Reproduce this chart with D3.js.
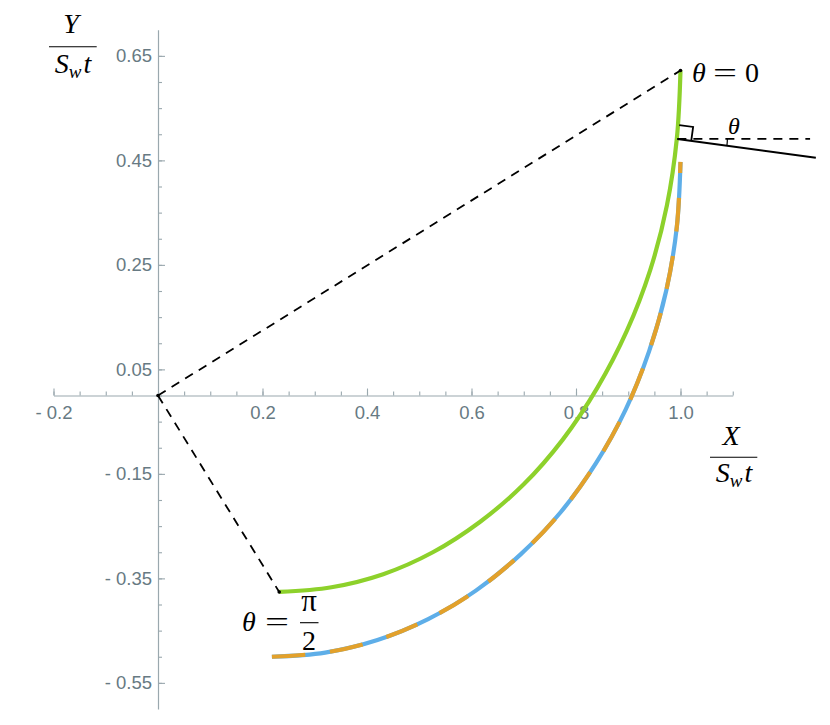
<!DOCTYPE html>
<html>
<head>
<meta charset="utf-8">
<script src="https://cdn.jsdelivr.net/npm/d3@7"></script>
<style>
  body { margin: 0; background: #fff; }
  svg { display: block; }
  .tick text { font-family: "Liberation Sans", Arial, sans-serif; font-size: 18.5px; fill: #677a83; }
  .math { font-family: "Liberation Serif", "DejaVu Serif", serif; fill: #000; }
</style>
</head>
<body>
<div id="chart"></div>
<script>
////////////////////////////////// data (X/(S_w t), Y/(S_w t))

// green curve, from theta = 0 (top) to theta = pi/2 (bottom)
var greenX = [1.000, 0.993, 0.974, 0.942, 0.897, 0.841, 0.775, 0.700, 0.616, 0.526, 0.431, 0.332, 0.232];
var greenY = [0.622, 0.492, 0.364, 0.240, 0.123, 0.015, -0.084, -0.170, -0.242, -0.300, -0.342, -0.367, -0.376];

// blue curve (drawn solid) and the same curve in orange dashes on top
var blueX = [1.000, 0.993, 0.973, 0.940, 0.895, 0.838, 0.771, 0.694, 0.609, 0.517, 0.420, 0.320, 0.218];
var blueY = [0.447, 0.323, 0.202, 0.085, -0.027, -0.130, -0.223, -0.304, -0.373, -0.428, -0.468, -0.492, -0.500];

// dashed rays from the origin to both ends of the green curve
var rayX = [1.000, 0.232];
var rayY = [0.622, -0.376];

// angle sketch near the top of the green curve
var cornerPt = [0.994, 0.491];
var slopeEnd = [1.259, 0.455];
var levelEndX = 1.248;

// axes
var xMajor = [-0.2, 0.2, 0.4, 0.6, 0.8, 1.0];
var xTickLabels = ["- 0.2", "0.2", "0.4", "0.6", "0.8", "1.0"];
var yMajor = [0.65, 0.45, 0.25, 0.05, -0.15, -0.35, -0.55];
var yTickLabels = ["0.65", "0.45", "0.25", "0.05", "- 0.15", "- 0.35", "- 0.55"];

////////////////////////////////// chart

var width = 830, height = 725;

var svg = d3.select("#chart").append("svg")
    .attr("width", width).attr("height", height);

var x = d3.scaleLinear().domain([-0.2, 1.1]).range([53.5, 732.75]);
var y = d3.scaleLinear().domain([-0.6, 0.7]).range([709, 29.75]);

var axisColor = "#9aa8ae";

function styleAxis(g){
    g.select(".domain").attr("stroke", axisColor).attr("stroke-width", 1.2);
    g.selectAll(".tick line").attr("stroke", axisColor).attr("stroke-width", 1.1);
}

//minor ticks every 0.05
var xMinor = d3.range(-0.2, 1.1 + 1e-9, 0.05);
var yMinor = d3.range(-0.55, 0.65 + 1e-9, 0.05);

svg.append("g").attr("transform", "translate(0," + y(0) + ")")
    .call(d3.axisBottom(x).tickValues(xMinor).tickSize(-4).tickSizeOuter(0).tickFormat(""))
    .call(styleAxis);
svg.append("g").attr("transform", "translate(0," + y(0) + ")")
    .call(d3.axisBottom(x).tickValues(xMajor).tickSize(-7).tickSizeOuter(0).tickPadding(10)
        .tickFormat(function(d, i){ return xTickLabels[i]; }))
    .call(styleAxis);

svg.append("g").attr("transform", "translate(" + x(0) + ",0)")
    .call(d3.axisLeft(y).tickValues(yMinor).tickSize(-4).tickSizeOuter(0).tickFormat(""))
    .call(styleAxis);
svg.append("g").attr("transform", "translate(" + x(0) + ",0)")
    .call(d3.axisLeft(y).tickValues(yMajor).tickSize(-7).tickSizeOuter(0).tickPadding(6)
        .tickFormat(function(d, i){ return yTickLabels[i]; }))
    .call(styleAxis);

svg.selectAll(".domain").filter(function(d, i){ return i % 2 == 1; }).remove();

//curves
var line = d3.line()
    .x(function(d){ return x(d[0]); })
    .y(function(d){ return y(d[1]); })
    .curve(d3.curveCatmullRom.alpha(0.5));

var greenPts = d3.zip(greenX, greenY);
var bluePts = d3.zip(blueX, blueY).reverse();

svg.append("path").attr("d", line(greenPts))
    .attr("fill", "none").attr("stroke", "#8dd12b").attr("stroke-width", 4.2);

svg.append("path").attr("d", line(bluePts))
    .attr("fill", "none").attr("stroke", "#5eaee8").attr("stroke-width", 4.2);

svg.append("path").attr("d", line(bluePts))
    .attr("fill", "none").attr("stroke", "#e3a12b").attr("stroke-width", 4.2)
    .attr("stroke-dasharray", "33.5,24.8");

//rays
rayX.forEach(function(rx, i){
    svg.append("line")
        .attr("x1", x(0)).attr("y1", y(0))
        .attr("x2", x(rx)).attr("y2", y(rayY[i]))
        .attr("stroke", "#000").attr("stroke-width", 1.8)
        .attr("stroke-dasharray", "9,7");
});
svg.selectAll(".vertex").data([[0, 0], [rayX[0], rayY[0]], [rayX[1], rayY[1]]]).enter()
    .append("circle").attr("class", "vertex")
    .attr("cx", function(d){ return x(d[0]); })
    .attr("cy", function(d){ return y(d[1]); })
    .attr("r", 1.8).attr("fill", "#000");

//angle sketch
var cx0 = x(cornerPt[0]), cy0 = y(cornerPt[1]);
var sx = x(slopeEnd[0]), sy = y(slopeEnd[1]);
var ang = Math.atan2(sy - cy0, sx - cx0);
var ux = Math.cos(ang), uy = Math.sin(ang);
var sq = 14;

svg.append("line")
    .attr("x1", cx0).attr("y1", cy0).attr("x2", x(levelEndX)).attr("y2", cy0)
    .attr("stroke", "#000").attr("stroke-width", 1.8).attr("stroke-dasharray", "9,7");
svg.append("line")
    .attr("x1", cx0).attr("y1", cy0).attr("x2", sx).attr("y2", sy)
    .attr("stroke", "#000").attr("stroke-width", 2);
svg.append("path")
    .attr("d", d3.line()([
        [cx0 + uy * sq, cy0 - ux * sq],
        [cx0 + uy * sq + ux * sq, cy0 - ux * sq + uy * sq],
        [cx0 + ux * sq, cy0 + uy * sq]]))
    .attr("fill", "none").attr("stroke", "#000").attr("stroke-width", 1.8);
var rr = 50;
svg.append("path")
    .attr("d", "M" + (cx0 + rr) + "," + cy0 + " A" + rr + "," + rr + " 0 0 1 " + (cx0 + rr * ux) + "," + (cy0 + rr * uy))
    .attr("fill", "none").attr("stroke", "#000").attr("stroke-width", 1.2);

////////////////////////////////// math labels

function mtext(px, py, str, size, italic, anchor){
    return svg.append("text").attr("class", "math")
        .attr("x", px).attr("y", py)
        .attr("font-size", size)
        .attr("font-style", italic ? "italic" : "normal")
        .attr("text-anchor", anchor || "start")
        .text(str);
}

function fracBar(x1, x2, py){
    svg.append("line").attr("x1", x1).attr("x2", x2).attr("y1", py).attr("y2", py)
        .attr("stroke", "#000").attr("stroke-width", 1.1);
}

function swt(cxm, py){
    var t = svg.append("text").attr("class", "math")
        .attr("x", cxm).attr("y", py).attr("font-size", 28)
        .attr("font-style", "italic").attr("text-anchor", "middle");
    t.append("tspan").text("S");
    t.append("tspan").attr("font-size", 19).attr("dy", 5).text("w");
    t.append("tspan").attr("dy", -5).attr("dx", 2).text("t");
}

// Y / S_w t
mtext(71, 33, "Y", 28, true, "middle");
fracBar(49, 96.7, 46.7);
swt(73, 73);

// X / S_w t
mtext(731, 445, "X", 28, true, "middle");
fracBar(710, 757.3, 457.3);
swt(734, 482);

// theta = 0
mtext(692, 82, "θ", 28, true);
mtext(713, 82, "=", 28, false).attr("textLength", 24).attr("lengthAdjust", "spacingAndGlyphs");
mtext(745, 82, "0", 28, false);

// theta = pi/2
mtext(242, 631, "θ", 28, true);
mtext(265, 631, "=", 28, false).attr("textLength", 24).attr("lengthAdjust", "spacingAndGlyphs");
mtext(309, 611, "π", 31, false, "middle");
fracBar(300, 318.5, 622.7);
mtext(309, 650, "2", 28, false, "middle");

// theta at the angle sketch
mtext(734, 133.5, "θ", 24, true, "middle");
</script>
</body>
</html>
